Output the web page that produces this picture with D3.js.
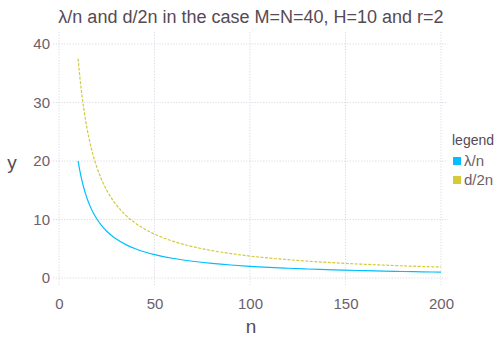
<!DOCTYPE html>
<html><head><meta charset="utf-8">
<script src="https://cdn.jsdelivr.net/npm/d3@7"></script>
<style>body{margin:0;background:#fff}svg{display:block}text{font-family:"Liberation Sans",Arial,sans-serif}</style>
</head><body>
<svg id="c" width="501" height="351"></svg>
<script>
const nValues = [10,11,12,13,14,15,16,18,20,22,25,28,30,35,40,45,50,60,70,80,90,100,110,120,130,140,150,160,170,180,190,200];
const lambdaOverN = [20,18.18,16.67,15.38,14.29,13.33,12.5,11.11,10,9.09,8,7.14,6.67,5.71,5,4.44,4,3.33,2.86,2.5,2.22,2,1.82,1.67,1.54,1.43,1.33,1.25,1.18,1.11,1.05,1];
const dOver2n = [37.5,34.09,31.25,28.85,26.79,25,23.44,20.83,18.75,17.05,15,13.39,12.5,10.71,9.38,8.33,7.5,6.25,5.36,4.69,4.17,3.75,3.41,3.13,2.88,2.68,2.5,2.34,2.21,2.08,1.97,1.88];
const seriesNames = ["λ/n","d/2n"];
const seriesColors = ["#00BFFF","#D4CA3A"];
const xTicks = [0,50,100,150,200];
const yTicks = [0,10,20,30,40];
const titleText = "λ/n and d/2n in the case M=N=40, H=10 and r=2";

const svg = d3.select("#c");
const x = d3.scaleLinear().domain([0,200]).range([59,441]);
const y = d3.scaleLinear().domain([0,40]).range([278,44]);
const panel = {x0:53, x1:448, y0:32, y1:285};
const labelColor = "#6C606B";

const g = svg.append("g");
g.selectAll("line.gx").data(xTicks).join("line")
  .attr("x1",d=>x(d)).attr("x2",d=>x(d)).attr("y1",panel.y0).attr("y2",panel.y1)
  .attr("stroke","#D0D0E0").attr("stroke-width",0.8).attr("stroke-dasharray","1.2,1.6");
g.selectAll("line.gy").data(yTicks).join("line")
  .attr("y1",d=>y(d)).attr("y2",d=>y(d)).attr("x1",panel.x0).attr("x2",panel.x1)
  .attr("stroke","#D0D0E0").attr("stroke-width",0.8).attr("stroke-dasharray","1.2,1.6");

const xAxis = svg.append("g").attr("transform",`translate(0,${panel.y1})`)
  .call(d3.axisBottom(x).tickValues(xTicks).tickSize(0).tickPadding(13));
const yAxis = svg.append("g").attr("transform",`translate(${panel.x0},0)`)
  .call(d3.axisLeft(y).tickValues(yTicks).tickSize(0).tickPadding(3));
[xAxis,yAxis].forEach(a=>{
  a.select(".domain").remove();
  a.selectAll("text").attr("fill",labelColor).style("font-size","15px");
});

const data = [lambdaOverN, dOver2n];
const line = d3.line().x((d,i)=>x(nValues[i])).y(d=>y(d)).curve(d3.curveMonotoneX);
svg.selectAll("path.s").data(data).join("path")
  .attr("d",line).attr("fill","none")
  .attr("stroke",(d,i)=>seriesColors[i]).attr("stroke-width",1.2)
  .attr("stroke-dasharray",(d,i)=>i===1?"3,1.5":null);

svg.append("text").attr("x",251).attr("y",23).attr("text-anchor","middle")
  .attr("fill","#564A55").style("font-size","18px").text(titleText);
svg.append("text").attr("x",12).attr("y",169).attr("text-anchor","middle")
  .attr("fill","#564A55").style("font-size","19px").text("y");
svg.append("text").attr("x",251).attr("y",333).attr("text-anchor","middle")
  .attr("fill","#564A55").style("font-size","19px").text("n");

svg.append("text").attr("x",452).attr("y",145).attr("fill","#564A55")
  .style("font-size","14px").text("legend");
const lg = svg.selectAll("g.lg").data(seriesNames).join("g")
  .attr("transform",(d,i)=>`translate(452,${161+i*19})`);
lg.append("rect").attr("x",1).attr("y",-4).attr("width",8).attr("height",8)
  .attr("fill",(d,i)=>seriesColors[i]);
lg.append("text").attr("x",12).attr("y",5).attr("fill",labelColor)
  .style("font-size","15px").text(d=>d);
</script>
</body></html>
